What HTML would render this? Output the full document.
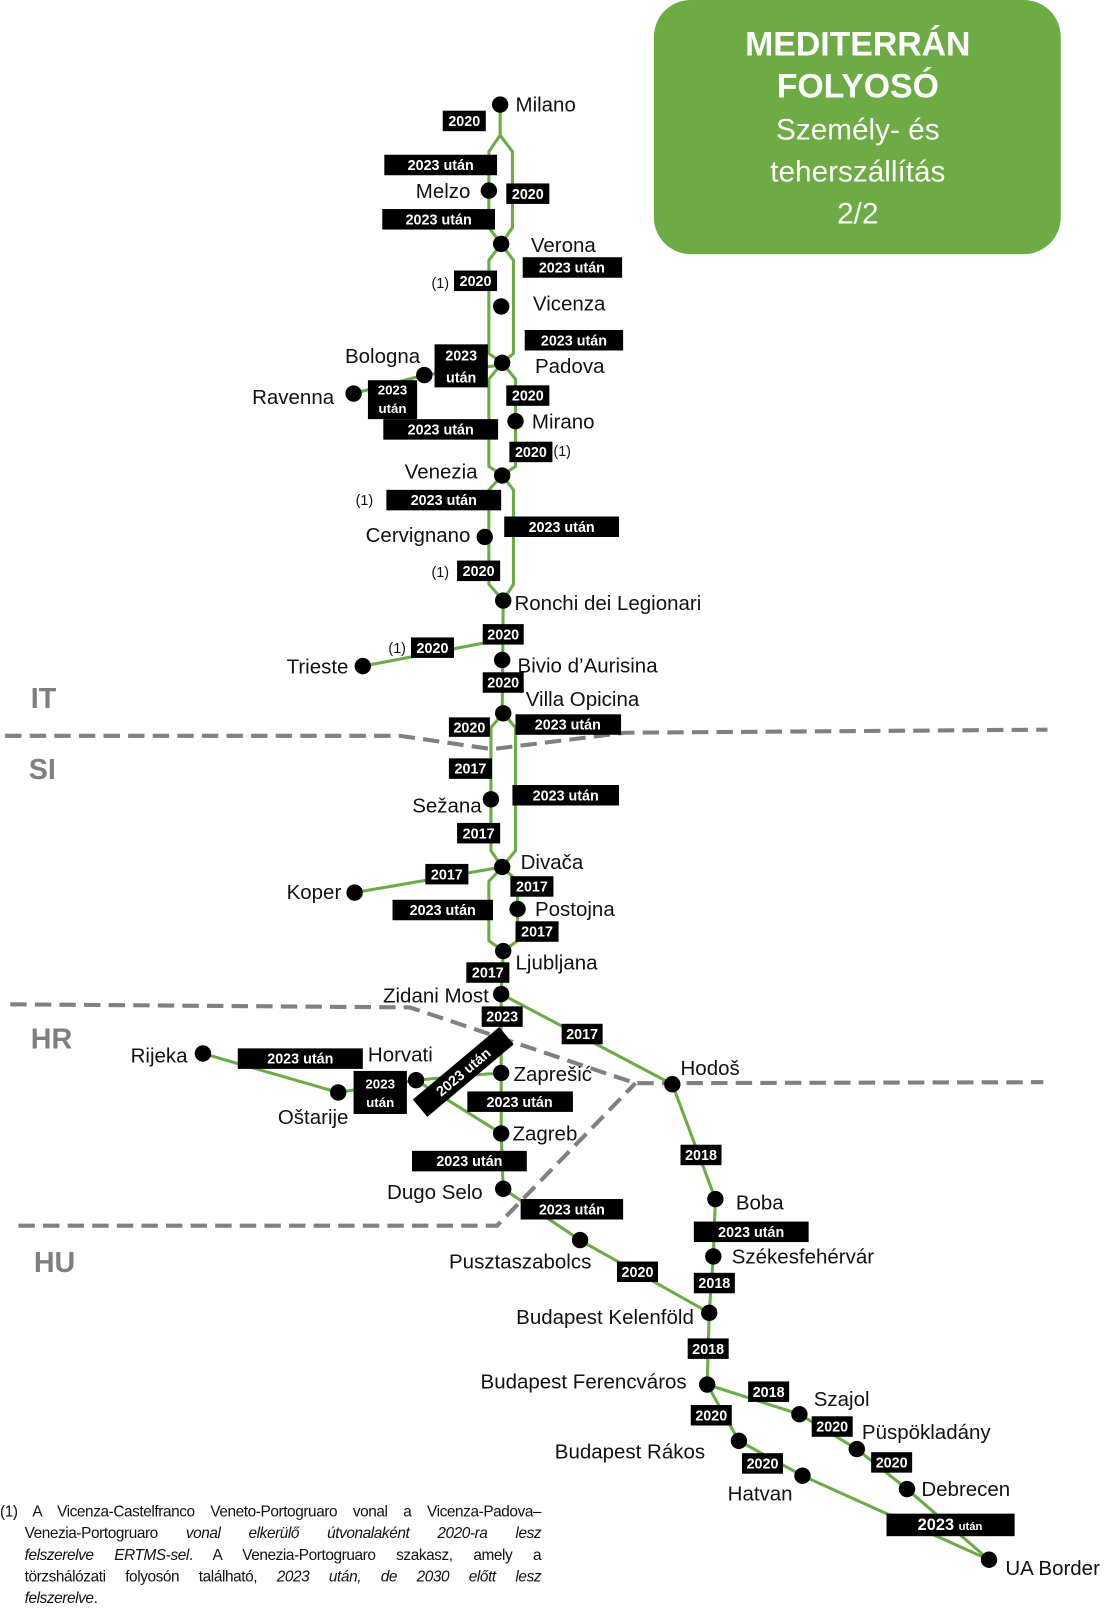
<!DOCTYPE html>
<html><head><meta charset="utf-8"><style>
html,body{margin:0;padding:0;background:#fff;width:1112px;height:1611px;overflow:hidden}
#wrap{position:absolute;left:0;top:0;width:1085px;height:1572px;transform:scale(1.02488,1.02481);transform-origin:0 0}
svg{position:absolute;left:0;top:0}
.st{font-family:"Liberation Sans",sans-serif;font-size:20px;fill:#111}
.lb{font-family:"Liberation Sans",sans-serif;font-size:14px;font-weight:bold;fill:#fff}
.n{font-family:"Liberation Sans",sans-serif;font-size:14px;fill:#111}
.c{font-family:"Liberation Sans",sans-serif;font-size:28px;font-weight:bold;fill:#7f7f7f}
#fn{position:absolute;left:0;top:1465px;width:528px;font-family:"Liberation Sans",sans-serif;font-size:15px;line-height:21px;color:#111;letter-spacing:-0.4px}
#fn div{text-align:justify;text-align-last:justify;white-space:nowrap;padding-left:24px}
#fn div.f{padding-left:0}
#fn div.l{text-align-last:left}
</style></head><body><div id="wrap">
<svg width="1085" height="1572" viewBox="0 0 1085 1572">
<rect x="638" y="0" width="397" height="248" rx="36" fill="#6dab45"/>
<g font-family="Liberation Sans,sans-serif" fill="#fff" text-anchor="middle">
<text x="837" y="54" font-size="33" font-weight="bold">MEDITERRÁN</text>
<text x="837" y="95" font-size="33" font-weight="bold">FOLYOSÓ</text>
<text x="837" y="136" font-size="29">Személy- és</text>
<text x="837" y="177" font-size="29">teherszállítás</text>
<text x="837" y="218" font-size="29">2/2</text>
</g>
<g fill="none" stroke="#808080" stroke-width="4" stroke-dasharray="16,8">
<path d="M5 718 L390 718 L480 731 L610 715 L1022 712"/>
<path d="M10 980 L400 983 L620 1057 L1018 1056"/>
<path d="M18 1196 L485 1196 L620 1057"/>
</g>
<text class="c" x="30" y="691">IT</text><text class="c" x="28" y="760">SI</text>
<text class="c" x="30" y="1023">HR</text><text class="c" x="33" y="1241">HU</text>
<g fill="none" stroke="#6dab45" stroke-width="3">
<path d="M488 102 L488 132 L477 148 L477 222 L489 238"/><path d="M488 132 L500 148 L500 222 L489 238"/>
<path d="M489 238 L477 254 L477 345 L490 354"/><path d="M489 238 L501 254 L501 345 L490 354"/>
<path d="M490 354 L477 370 L477 455 L490 464"/><path d="M490 354 L503 370 L503 455 L490 464"/>
<path d="M490 464 L477 478 L477 570 L491 586"/><path d="M490 464 L501 478 L501 570 L491 586"/>
<path d="M345 384 L414 366 L490 356"/>
<path d="M491 586 L490 696"/><path d="M354 650 L490 624"/>
<path d="M491 696 L479 710 L479 830 L490 846"/><path d="M491 696 L503 710 L503 830 L490 846"/>
<path d="M346 871 L490 846"/>
<path d="M490 846 L477 860 L477 918 L491 928"/><path d="M490 846 L505 860 L505 918 L491 928"/>
<path d="M491 928 L489 970 L489 1047 L489 1106 L491 1160"/>
<path d="M489 970 L656 1058"/>
<path d="M198 1028 L330 1066 L406 1054 L475 1048 L489 1047"/><path d="M406 1054 L489 1106"/>
<path d="M491 1160 L569 1212 L692 1281"/>
<path d="M656 1058 L698 1170 L696 1226 L692 1281 L690 1351 L721 1406 L783 1440 L965 1522"/>
<path d="M690 1351 L780 1380 L836 1414 L885 1453 L965 1522"/>
</g>
<g fill="#000">
<circle cx="488" cy="102" r="8"/><circle cx="477" cy="186" r="8"/><circle cx="489" cy="238" r="8"/><circle cx="489" cy="299" r="8"/>
<circle cx="490" cy="354" r="8"/><circle cx="414" cy="366" r="8"/><circle cx="345" cy="384" r="8"/><circle cx="503" cy="411" r="8"/>
<circle cx="490" cy="464" r="8"/><circle cx="473" cy="524" r="8"/><circle cx="491" cy="586" r="8"/><circle cx="354" cy="650" r="8"/>
<circle cx="490" cy="644" r="8"/><circle cx="491" cy="696" r="8"/><circle cx="479" cy="780" r="8"/><circle cx="490" cy="846" r="8"/>
<circle cx="346" cy="871" r="8"/><circle cx="505" cy="887" r="8"/><circle cx="491" cy="928" r="8"/><circle cx="489" cy="970" r="8"/>
<circle cx="656" cy="1058" r="8"/><circle cx="198" cy="1028" r="8"/><circle cx="330" cy="1066" r="8"/><circle cx="406" cy="1054" r="8"/>
<circle cx="489" cy="1047" r="8"/><circle cx="489" cy="1106" r="8"/><circle cx="491" cy="1160" r="8"/><circle cx="566" cy="1210" r="8"/>
<circle cx="698" cy="1170" r="8"/><circle cx="696" cy="1226" r="8"/><circle cx="692" cy="1281" r="8"/><circle cx="690" cy="1351" r="8"/>
<circle cx="780" cy="1380" r="8"/><circle cx="836" cy="1414" r="8"/><circle cx="885" cy="1453" r="8"/><circle cx="721" cy="1406" r="8"/>
<circle cx="783" cy="1440" r="8"/><circle cx="965" cy="1522" r="8"/>
</g>
<g class="st">
<text x="503" y="109">Milano</text>
<text x="459" y="193" text-anchor="end">Melzo</text>
<text x="518" y="246">Verona</text><text x="520" y="303">Vicenza</text>
<text x="410" y="354" text-anchor="end">Bologna</text><text x="522" y="364">Padova</text>
<text x="326" y="394" text-anchor="end">Ravenna</text><text x="519" y="418">Mirano</text>
<text x="466" y="467" text-anchor="end">Venezia</text><text x="459" y="529" text-anchor="end">Cervignano</text>
<text x="502" y="595">Ronchi dei Legionari</text><text x="340" y="657" text-anchor="end">Trieste</text>
<text x="505" y="656">Bivio d’Aurisina</text><text x="513" y="689">Villa Opicina</text>
<text x="470" y="793" text-anchor="end">Sežana</text><text x="508" y="848">Divača</text>
<text x="333" y="877" text-anchor="end">Koper</text><text x="522" y="894">Postojna</text>
<text x="503" y="946">Ljubljana</text><text x="477" y="978" text-anchor="end">Zidani Most</text>
<text x="664" y="1049">Hodoš</text><text x="183" y="1037" text-anchor="end">Rijeka</text>
<text x="359" y="1036">Horvati</text><text x="501" y="1055">Zaprešić</text>
<text x="340" y="1097" text-anchor="end">Oštarije</text><text x="500" y="1113">Zagreb</text>
<text x="471" y="1170" text-anchor="end">Dugo Selo</text><text x="718" y="1180">Boba</text>
<text x="577" y="1238" text-anchor="end">Pusztaszabolcs</text><text x="714" y="1233">Székesfehérvár</text>
<text x="677" y="1292" text-anchor="end">Budapest Kelenföld</text><text x="670" y="1355" text-anchor="end">Budapest Ferencváros</text>
<text x="794" y="1372">Szajol</text><text x="841" y="1404">Püspökladány</text>
<text x="688" y="1423" text-anchor="end">Budapest Rákos</text><text x="899" y="1460">Debrecen</text>
<text x="710" y="1464">Hatvan</text><text x="981" y="1537">UA Border</text>
</g>
<g class="n">
<text x="421" y="281">(1)</text><text x="540" y="445">(1)</text><text x="347" y="493">(1)</text>
<text x="421" y="563">(1)</text><text x="379" y="637">(1)</text>
</g>
<g fill="#000">
<rect x="432" y="108" width="42" height="20"/><rect x="375" y="151" width="110" height="20"/><rect x="494" y="179" width="42" height="20"/>
<rect x="373" y="204" width="110" height="20"/><rect x="510" y="251" width="97" height="20"/><rect x="443" y="264" width="42" height="20"/>
<rect x="512" y="322" width="96" height="20"/><rect x="424" y="336" width="52" height="42"/><rect x="359" y="371" width="48" height="38"/>
<rect x="494" y="376" width="42" height="20"/><rect x="374" y="409" width="112" height="20"/><rect x="497" y="431" width="42" height="20"/>
<rect x="377" y="478" width="112" height="20"/><rect x="492" y="504" width="112" height="20"/><rect x="446" y="547" width="42" height="20"/>
<rect x="471" y="609" width="40" height="20"/><rect x="401" y="622" width="42" height="20"/><rect x="471" y="656" width="40" height="20"/>
<rect x="438" y="700" width="40" height="19"/><rect x="503" y="697" width="103" height="20"/><rect x="438" y="740" width="42" height="20"/>
<rect x="500" y="766" width="104" height="20"/><rect x="446" y="803" width="42" height="20"/><rect x="415" y="843" width="42" height="20"/>
<rect x="498" y="855" width="42" height="20"/><rect x="383" y="878" width="98" height="20"/><rect x="503" y="899" width="42" height="20"/>
<rect x="455" y="939" width="42" height="20"/><rect x="470" y="982" width="40" height="20"/><rect x="548" y="999" width="40" height="20"/>
<rect x="232" y="1023" width="122" height="20"/><rect x="345" y="1045" width="52" height="42"/><rect x="456" y="1065" width="103" height="20"/>
<rect x="402" y="1123" width="112" height="20"/><rect x="508" y="1170" width="100" height="20"/><rect x="664" y="1117" width="40" height="20"/>
<rect x="677" y="1192" width="112" height="20"/><rect x="602" y="1231" width="40" height="20"/><rect x="677" y="1242" width="40" height="20"/>
<rect x="671" y="1306" width="40" height="20"/><rect x="730" y="1348" width="40" height="20"/><rect x="674" y="1371" width="40" height="20"/>
<rect x="792" y="1382" width="40" height="20"/><rect x="724" y="1418" width="40" height="20"/><rect x="850" y="1417" width="40" height="20"/>
<rect x="865" y="1477" width="125" height="22"/>
<rect x="397" y="1035" width="110" height="22" transform="rotate(-40 452 1046)"/>
</g>
<g class="lb" text-anchor="middle">
<text x="453" y="123">2020</text><text x="430" y="166">2023 után</text><text x="515" y="194">2020</text>
<text x="428" y="219">2023 után</text><text x="558" y="266">2023 után</text><text x="464" y="279">2020</text>
<text x="560" y="337">2023 után</text><text x="450" y="352">2023</text><text x="450" y="373">után</text>
<text x="383" y="385" font-size="13">2023</text><text x="383" y="403" font-size="13">után</text>
<text x="515" y="391">2020</text><text x="430" y="424">2023 után</text><text x="518" y="446">2020</text>
<text x="433" y="493">2023 után</text><text x="548" y="519">2023 után</text><text x="467" y="562">2020</text>
<text x="491" y="624">2020</text><text x="422" y="637">2020</text><text x="491" y="671">2020</text>
<text x="458" y="715">2020</text><text x="554" y="712">2023 után</text><text x="459" y="755">2017</text>
<text x="552" y="781">2023 után</text><text x="467" y="818">2017</text><text x="436" y="858">2017</text>
<text x="519" y="870">2017</text><text x="432" y="893">2023 után</text><text x="524" y="914">2017</text>
<text x="476" y="954">2017</text><text x="490" y="997">2023</text><text x="568" y="1014">2017</text>
<text x="293" y="1038">2023 után</text><text x="371" y="1062" font-size="13">2023</text><text x="371" y="1080" font-size="13">után</text>
<text x="507" y="1080">2023 után</text><text x="458" y="1138">2023 után</text><text x="558" y="1185">2023 után</text>
<text x="684" y="1132">2018</text><text x="733" y="1207">2023 után</text><text x="622" y="1246">2020</text>
<text x="697" y="1257">2018</text><text x="691" y="1321">2018</text><text x="750" y="1363">2018</text>
<text x="694" y="1386">2020</text><text x="812" y="1397">2020</text><text x="744" y="1433">2020</text>
<text x="870" y="1432">2020</text><text x="927" y="1493" font-size="16">2023 <tspan font-size="11">után</tspan></text>
<text x="452" y="1051" transform="rotate(-40 452 1046)">2023 után</text>
</g>
</svg>
<div id="fn">
<div class="f">(1) A Vicenza-Castelfranco Veneto-Portogruaro vonal a Vicenza-Padova–</div>
<div>Venezia-Portogruaro <i>vonal elkerülő útvonalaként 2020-ra lesz</i></div>
<div><i>felszerelve ERTMS-sel</i>. A Venezia-Portogruaro szakasz, amely a</div>
<div>törzshálózati folyosón található, <i>2023 után, de 2030 előtt lesz</i></div>
<div class="l"><i>felszerelve</i>.</div>
</div>
</div></body></html>
